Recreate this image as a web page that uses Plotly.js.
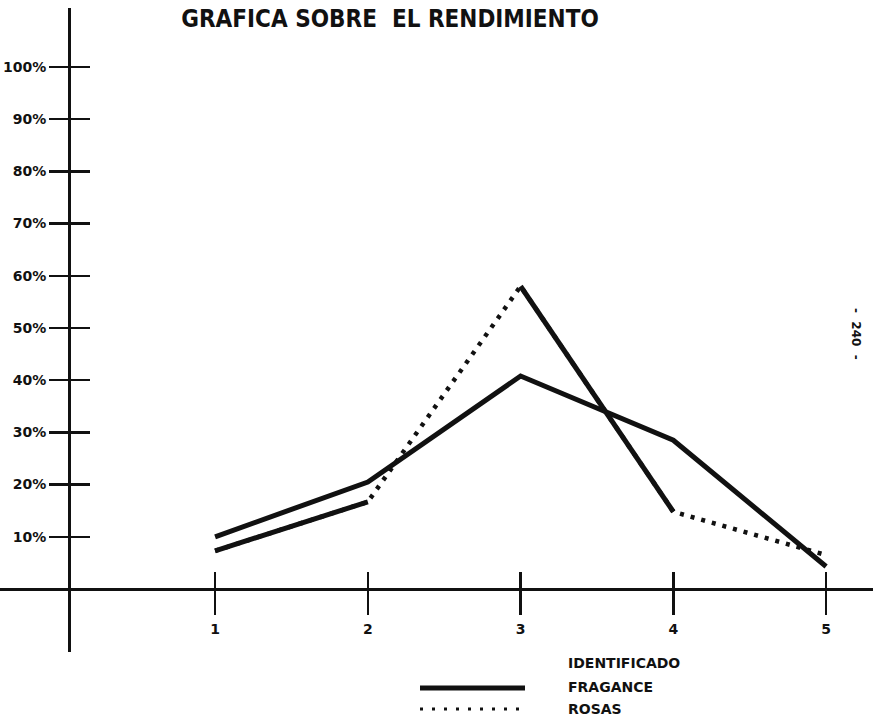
<!DOCTYPE html>
<html>
<head>
<meta charset="utf-8">
<script src="https://cdn.plot.ly/plotly-3.0.1.min.js"></script>
<style>
  html, body { margin: 0; padding: 0; background: #ffffff; }
  #chart { width: 873px; height: 719px; }
</style>
</head>
<body>
<div id="chart"></div>
<script>
// ---- data ----
const categories = [1, 2, 3, 4, 5];
const xTickLabels = ['1', '2', '3', '4', '5'];
const yTickValues = [10, 20, 30, 40, 50, 60, 70, 80, 90, 100];
const yTickLabels = ['10%', '20%', '30%', '40%', '50%', '60%', '70%', '80%', '90%', '100%'];
const fragance = [10.0, 20.5, 40.8, 28.5, 4.3];
const rosas = [7.3, 16.7, 58.0, 14.8, 6.5];
// segments of the ROSAS curve that were inked solid in the original drawing
const rosasSolidSegments = [[0, 1], [2, 3]];
const chartTitle = 'GRAFICA SOBRE&nbsp;&nbsp;EL RENDIMIENTO';
const legendHeader = 'IDENTIFICADO';
const legendNames = ['FRAGANCE', 'ROSAS'];
const pageLabel = '-&nbsp;&nbsp;240&nbsp;&nbsp;-';

// ---- layout helpers (pixel -> paper) ----
const W = 873, H = 719, mT = 8, mB = 67;
const plotH = H - mT - mB;
const px = v => v / W;
const py = v => (H - mB - v) / plotH;

const ink = '#111111';
const boldFont = { family: 'DejaVu Sans, Liberation Sans, sans-serif', size: 14, color: ink, weight: 'bold' };
const legendFont = { family: 'DejaVu Sans, sans-serif', size: 14, color: ink, weight: 'bold' };
const xRange = [-0.408, 5.307];
const yRange = [-12.07, 111.3];
const dotDash = '4px,7px';

const traces = [
  {
    x: categories, y: rosas, name: legendNames[1], mode: 'lines',
    line: { color: ink, width: 4.5, dash: dotDash }, hoverinfo: 'skip'
  },
  {
    x: categories, y: fragance, name: legendNames[0], mode: 'lines',
    line: { color: ink, width: 5 }, hoverinfo: 'skip'
  }
];
rosasSolidSegments.forEach(seg => {
  traces.push({
    x: categories.slice(seg[0], seg[1] + 1), y: rosas.slice(seg[0], seg[1] + 1),
    name: legendNames[1], mode: 'lines', showlegend: false,
    line: { color: ink, width: 5 }, hoverinfo: 'skip'
  });
});
// companion axes (ticks crossing the axis lines)
traces.push({ x: [], y: [], xaxis: 'x2', yaxis: 'y2', mode: 'lines', showlegend: false, hoverinfo: 'skip' });

const layout = {
  width: W, height: H,
  margin: { l: 0, r: 0, t: mT, b: mB, pad: 0 },
  paper_bgcolor: '#ffffff', plot_bgcolor: '#ffffff',
  showlegend: false,
  title: {
    text: chartTitle, x: px(390), xanchor: 'center', xref: 'paper',
    y: 1 - 19 / H, yanchor: 'middle', yref: 'container',
    font: { family: 'DejaVu Sans Condensed, DejaVu Sans, sans-serif', size: 24, color: ink, weight: 'bold' }
  },
  xaxis: {
    range: xRange, domain: [0, 1], anchor: 'free', position: (H - mB - 589) / plotH,
    tickvals: categories, ticktext: xTickLabels, ticks: 'outside', ticklen: 24, tickwidth: 2.5, tickcolor: ink,
    showline: true, linecolor: ink, linewidth: 2.5, showgrid: false, zeroline: false,
    tickfont: boldFont, ticklabelstandoff: 3, fixedrange: true
  },
  xaxis2: {
    range: xRange, domain: [0, 1], overlaying: 'x', side: 'top', anchor: 'free', position: (H - mB - 589) / plotH,
    tickvals: categories, ticks: 'outside', ticklen: 17, tickwidth: 2.5, tickcolor: ink,
    showticklabels: false, showline: false, showgrid: false, zeroline: false, fixedrange: true
  },
  yaxis: {
    range: yRange, domain: [0, 1], anchor: 'free', position: px(69),
    tickvals: yTickValues, ticktext: yTickLabels, ticks: 'outside', ticklen: 19, tickwidth: 2.5, tickcolor: ink,
    showline: true, linecolor: ink, linewidth: 2.5, showgrid: false, zeroline: false,
    tickfont: boldFont, fixedrange: true
  },
  yaxis2: {
    range: yRange, domain: [0, 1], overlaying: 'y', side: 'right', anchor: 'free', position: px(69),
    tickvals: yTickValues, ticks: 'outside', ticklen: 20, tickwidth: 2.5, tickcolor: ink,
    showticklabels: false, showline: false, showgrid: false, zeroline: false, fixedrange: true
  },
  shapes: [
    { type: 'line', xref: 'paper', yref: 'paper', x0: px(420), x1: px(525), y0: py(688), y1: py(688),
      line: { color: ink, width: 5 } },
    { type: 'line', xref: 'paper', yref: 'paper', x0: px(420), x1: px(525), y0: py(709), y1: py(709),
      line: { color: ink, width: 3, dash: '3px,9px' } }
  ],
  annotations: [
    { text: legendHeader, xref: 'paper', yref: 'paper', x: px(566), y: py(663), xanchor: 'left', yanchor: 'middle',
      showarrow: false, font: legendFont },
    { text: legendNames[0], xref: 'paper', yref: 'paper', x: px(566), y: py(687), xanchor: 'left', yanchor: 'middle',
      showarrow: false, font: legendFont },
    { text: legendNames[1], xref: 'paper', yref: 'paper', x: px(566), y: py(709), xanchor: 'left', yanchor: 'middle',
      showarrow: false, font: legendFont },
    { text: pageLabel, xref: 'paper', yref: 'paper', x: px(856), y: py(334), xanchor: 'center', yanchor: 'middle',
      textangle: 90, showarrow: false, font: { family: 'DejaVu Sans, sans-serif', size: 12, color: ink, weight: 'bold' } }
  ]
};

Plotly.newPlot('chart', traces, layout, { displayModeBar: false, staticPlot: true });
</script>
</body>
</html>
